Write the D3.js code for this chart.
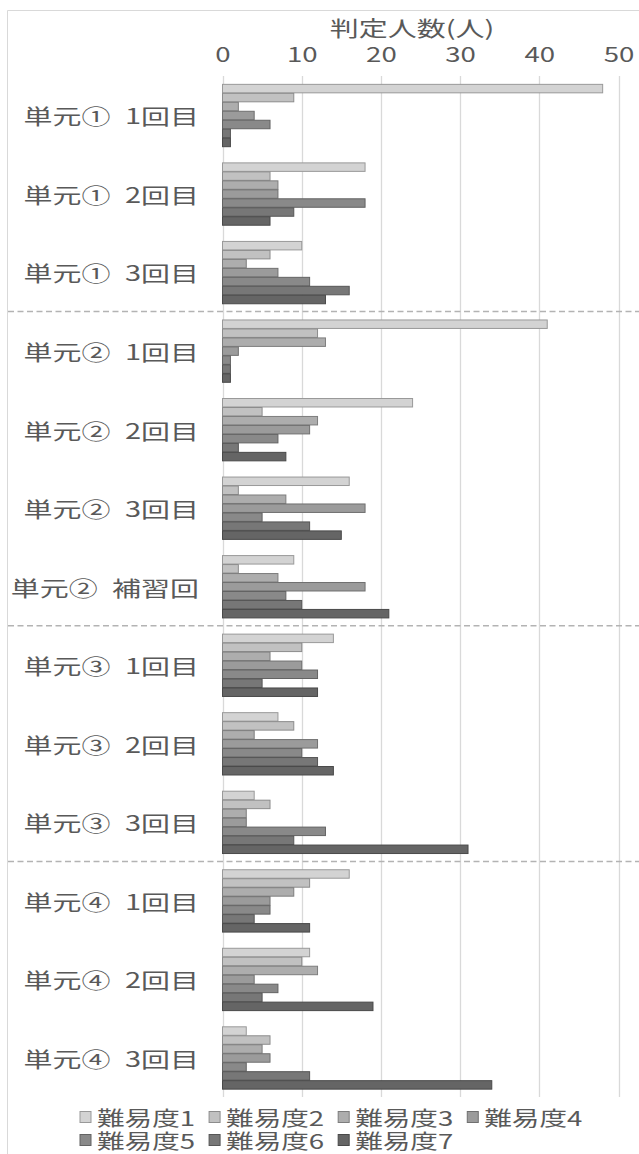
<!DOCTYPE html>
<meta charset="utf-8">
<style>
  html, body { margin: 0; padding: 0; background: #fff; }
  svg { display: block; }
  text { font-family: "Noto Sans CJK JP", "Noto Sans", sans-serif; fill: #595959; }
</style>
<body>
<div id="chart"></div>
<script src="https://d3js.org/d3.v7.min.js"></script>
<script>
// data
const categories = [
  "単元①\u20021回目", "単元①\u20022回目", "単元①\u20023回目",
  "単元②\u20021回目", "単元②\u20022回目", "単元②\u20023回目", "単元②\u2002補習回",
  "単元③\u20021回目", "単元③\u20022回目", "単元③\u20023回目",
  "単元④\u20021回目", "単元④\u20022回目", "単元④\u20023回目"
];
const seriesNames = ["難易度1", "難易度2", "難易度3", "難易度4", "難易度5", "難易度6", "難易度7"];
const level1 = [48, 18, 10, 41, 24, 16, 9, 14, 7, 4, 16, 11, 3];
const level2 = [9, 6, 6, 12, 5, 2, 2, 10, 9, 6, 11, 10, 6];
const level3 = [2, 7, 3, 13, 12, 8, 7, 6, 4, 3, 9, 12, 5];
const level4 = [4, 7, 7, 2, 11, 18, 18, 10, 12, 3, 6, 4, 6];
const level5 = [6, 18, 11, 1, 7, 5, 8, 12, 10, 13, 6, 7, 3];
const level6 = [1, 9, 16, 1, 2, 11, 10, 5, 12, 9, 4, 5, 11];
const level7 = [1, 6, 13, 1, 8, 15, 21, 12, 14, 31, 11, 19, 34];
const xTicks = [0, 10, 20, 30, 40, 50];
const axisTitle = "判定人数(人)";
// a dashed line is drawn above each of these
const unitStarts = [categories[3], categories[7], categories[10]];

const allLevels = [level1, level2, level3, level4, level5, level6, level7];

const W = 639, H = 1154;
const SX = 1.38; // the reference text is stretched sideways

const svg = d3.select("#chart").append("svg")
  .attr("width", W).attr("height", H);

// frame
svg.append("path")
  .attr("d", `M7.5,${H} V10.5 H${W}`)
  .attr("fill", "none").attr("stroke", "#d9d9d9").attr("stroke-width", 1);

const x = d3.scaleLinear().domain([0, 50]).range([222.5, 618.5]);
const y0 = d3.scaleBand().domain(categories).range([76, 1097])
  .paddingInner(0.2).paddingOuter(0.1);
const y1 = d3.scaleBand().domain(seriesNames).range([0, y0.bandwidth()]);
const color = d3.scaleOrdinal().domain(seriesNames)
  .range(["#d3d3d3", "#c1c1c1", "#adadad", "#9b9b9b", "#898989", "#777777", "#656565"]);
const stroke = d => d3.color(color(d)).darker(0.9);

// gridlines
svg.append("g").selectAll("line").data(xTicks).join("line")
  .attr("x1", d => Math.round(x(d)) + 0.5).attr("x2", d => Math.round(x(d)) + 0.5)
  .attr("y1", 76).attr("y2", 1097)
  .attr("stroke", "#d9d9d9").attr("stroke-width", 1.3);

// top axis labels
const axis = svg.append("g")
  .attr("transform", "translate(0,62)")
  .call(d3.axisTop(x).tickValues(xTicks).tickSize(0).tickPadding(0));
axis.select(".domain").remove();
axis.selectAll(".tick text")
  .attr("x", 0).attr("y", 0).attr("dy", 0)
  .attr("font-size", 20)
  .attr("font-family", "\"Noto Sans CJK JP\", sans-serif")
  .attr("fill", "#595959")
  .attr("text-anchor", "middle")
  .attr("transform", `scale(${SX},1)`);

svg.append("text")
  .attr("transform", `translate(412,36) scale(${SX},1)`)
  .attr("text-anchor", "middle")
  .attr("font-size", 21)
  .text(axisTitle);

// dashed unit separators
const step = y0.step();
svg.append("g").selectAll("line").data(unitStarts).join("line")
  .attr("x1", 8).attr("x2", W)
  .attr("y1", d => y0(d) - step * y0.paddingInner() / 2)
  .attr("y2", d => y0(d) - step * y0.paddingInner() / 2)
  .attr("stroke", "#b3b3b3").attr("stroke-width", 1.5)
  .attr("stroke-dasharray", "6,3.5");

// bars
const groups = svg.append("g").selectAll("g").data(categories).join("g")
  .attr("transform", d => `translate(0,${y0(d)})`);
groups.selectAll("rect")
  .data((c, i) => seriesNames.map((s, j) => ({ s, v: allLevels[j][i] })))
  .join("rect")
  .attr("x", x(0))
  .attr("y", d => y1(d.s) + 0.5)
  .attr("width", d => x(d.v) - x(0))
  .attr("height", y1.bandwidth() - 0.5)
  .attr("fill", d => color(d.s))
  .attr("stroke", d => stroke(d.s))
  .attr("stroke-width", 1);

// category labels
svg.append("g").selectAll("text").data(categories).join("text")
  .attr("transform", d => `translate(199,${y0(d) + y0.bandwidth() / 2}) scale(${SX},1)`)
  .attr("text-anchor", "end")
  .attr("dominant-baseline", "central")
  .attr("font-size", 21)
  .text(d => d);

// legend
const legendRows = [seriesNames.slice(0, 4), seriesNames.slice(4)];
legendRows.forEach((row, r) => {
  let lx = 80;
  const ly = 1117 + r * 23;
  row.forEach(name => {
    svg.append("rect")
      .attr("x", lx).attr("y", ly - 5.5)
      .attr("width", 11).attr("height", 11)
      .attr("fill", color(name)).attr("stroke", stroke(name));
    const t = svg.append("text")
      .attr("transform", `translate(${lx + 17},${ly}) scale(${SX},1)`)
      .attr("dominant-baseline", "central")
      .attr("font-size", 20)
      .text(name);
    lx += 17 + t.node().getComputedTextLength() * SX + 14;
  });
});
</script>
</body>
